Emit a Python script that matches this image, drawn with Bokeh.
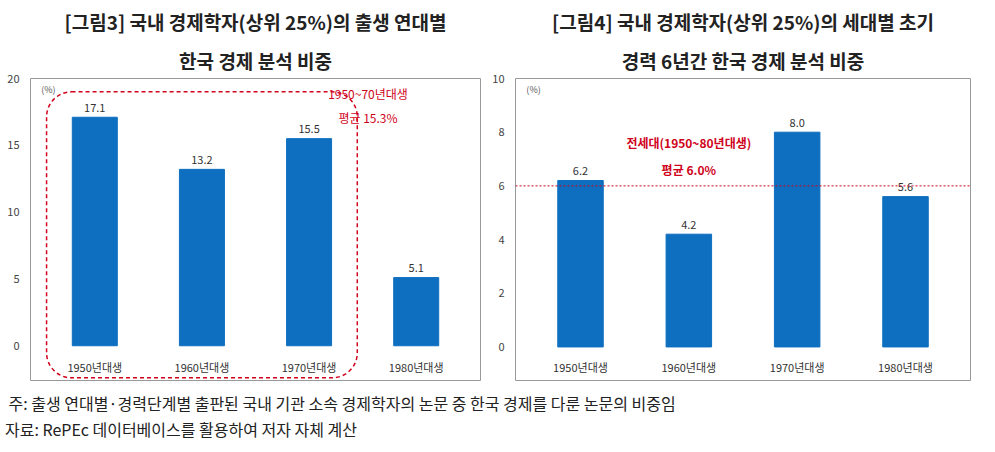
from bokeh.plotting import figure
from bokeh.layouts import column, row
from bokeh.models import Div, Span, BoxAnnotation, FixedTicker, Range1d, Title
from bokeh.core.properties import value
from bokeh.embed import file_html
from bokeh.resources import INLINE

cats = ["1950년대생", "1960년대생", "1970년대생", "1980년대생"]
share_all = [17.1, 13.2, 15.5, 5.1]
share_early = [6.2, 4.2, 8.0, 5.6]
avg_left = 15.3
avg_right = 6.0
F = "Noto Sans CJK KR"
BLUE = "#0E6FC0"
RED = "#D0021B"

def make(lines, vals, ymax, ystep, ymin, lab_y, w):
    p = figure(width=w, height=385, output_backend="svg", toolbar_location=None,
               x_range=Range1d(-0.6, 3.6), y_range=Range1d(ymin, ymax))
    for ln in reversed(lines):
        p.add_layout(Title(text=ln, align="center", text_font=F, text_font_size="19px",
                           text_color="#222"), "above")
    xs = list(range(len(cats)))
    p.vbar(x=xs, top=vals, width=0.42, color=BLUE)
    p.text(x=xs, y=[v + ymax * 0.02 for v in vals], text=[f"{v:.1f}" for v in vals],
           text_align="center", text_baseline="bottom", text_font=value(F),
           text_font_size="11px", text_color="#333")
    p.text(x=xs, y=[lab_y] * 4, text=cats, text_align="center", text_baseline="middle",
           text_font=value(F), text_font_size="11px", text_color="#333")
    p.text(x=[-0.5], y=[ymax * 0.985], text=["(%)"], text_baseline="top",
           text_font=value(F), text_font_size="9px", text_color="#555")
    p.xaxis.visible = False
    p.xgrid.visible = False
    p.ygrid.visible = False
    p.yaxis.ticker = FixedTicker(ticks=list(range(0, ymax + 1, ystep)))
    p.yaxis.axis_line_color = None
    p.yaxis.major_tick_line_color = None
    p.yaxis.minor_tick_line_color = None
    p.yaxis.major_label_text_font = F
    p.yaxis.major_label_text_font_size = "11px"
    p.outline_line_color = "#999"
    p.min_border_left = 30
    return p

p1 = make(["[그림3] 국내 경제학자(상위 25%)의 출생 연대별", "한국 경제 분석 비중"], share_all, 20, 5, -2.6, -1.6, 485)
p1.add_layout(BoxAnnotation(left=-0.45, right=2.45, bottom=-2.4, top=19.0, fill_alpha=0,
                            line_color=RED, line_alpha=1, line_dash="4 3", line_width=1.5, border_radius=25))
p1.text(x=[2.55, 2.55], y=[18.9, 17.1], text=["1950~70년대생", "평균 15.3%"], text_align="center",
        text_baseline="middle", text_font=value(F), text_font_size="12px", text_color=RED)

p2 = make(["[그림4] 국내 경제학자(상위 25%)의 세대별 초기", "경력 6년간 한국 경제 분석 비중"], share_early, 10, 2, -1.25, -0.75, 490)
p2.add_layout(Span(location=avg_right, dimension="width", line_color=RED, line_dash="2 2", line_width=1))
p2.text(x=[1.0, 1.0], y=[7.6, 6.6], text=["전세대(1950~80년대생)", "평균 6.0%"], text_align="center",
        text_baseline="middle", text_font=value(F), text_font_size="12px", text_color=RED,
        text_font_style="bold")

note = Div(text="<div style='font-family:\"Noto Sans CJK KR\";font-size:16px;color:#222;line-height:26px'>"
                "&nbsp;주: 출생 연대별·경력단계별 출판된 국내 기관 소속 경제학자의 논문 중 한국 경제를 다룬 논문의 비중임<br>"
                "자료: RePEc 데이터베이스를 활용하여 저자 자체 계산</div>", width=975, height=55)

layout = column(row(p1, p2), note)
open("out.html", "w").write(file_html(layout, INLINE))
